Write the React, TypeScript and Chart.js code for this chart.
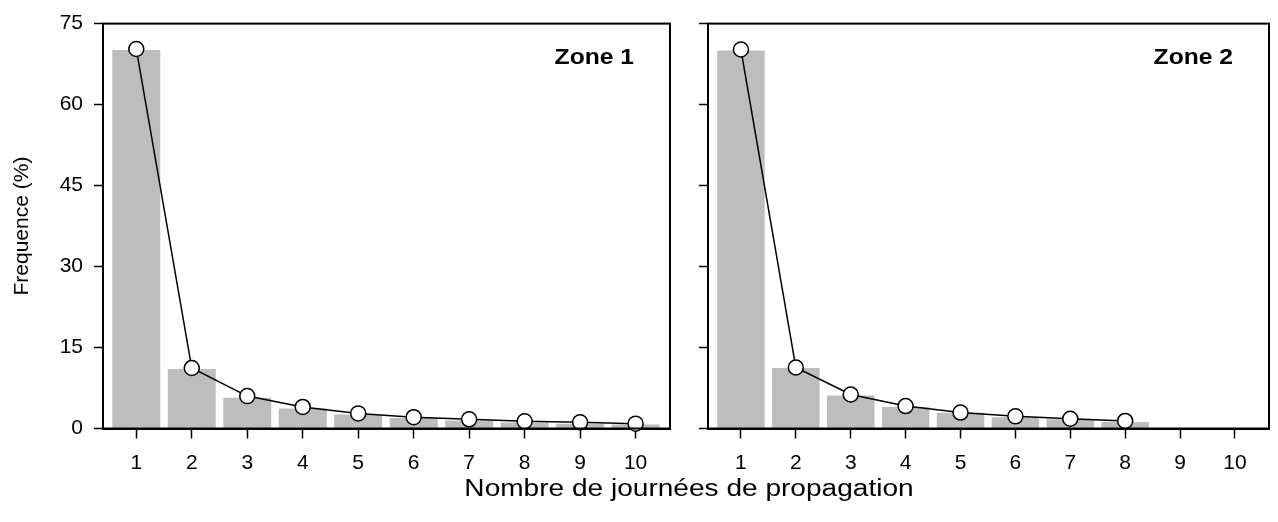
import React, { useEffect, useRef } from "react";
import { Chart, registerables } from "chart.js";

Chart.register(...registerables);

// ---- data ----
const xTickValues = [1, 2, 3, 4, 5, 6, 7, 8, 9, 10];
const yTickValues = [0, 15, 30, 45, 60, 75];

const zone1Days = [1, 2, 3, 4, 5, 6, 7, 8, 9, 10];
const zone1Bars = [70.1, 11.0, 5.7, 3.7, 2.6, 1.95, 1.5, 1.1, 0.9, 0.75];
const zone1Points = [70.3, 11.2, 6.0, 4.0, 2.8, 2.1, 1.7, 1.35, 1.15, 0.9];

const zone2Days = [1, 2, 3, 4, 5, 6, 7, 8];
const zone2Bars = [70.0, 11.2, 6.1, 4.0, 2.9, 2.1, 1.7, 1.2];
const zone2Points = [70.2, 11.3, 6.3, 4.15, 2.95, 2.25, 1.8, 1.4];

const zoneLabels = ["Zone 1", "Zone 2"];
const yTitle = "Frequence (%)";
const xTitle = "Nombre de journées de propagation";

const FONT = "'Liberation Sans', Arial, Helvetica, sans-serif";

type PanelOpts = {
  days: number[];
  bars: number[];
  points: number[];
  label: string;
  showY: boolean;
  yWidth: number;
  padRight: number;
};

function makeConfig(p: PanelOpts): any {
  const framePlugin = {
    id: "frameAndLabel",
    afterDraw(chart: any) {
      const { ctx, chartArea } = chart;
      ctx.save();
      ctx.strokeStyle = "#000";
      ctx.lineWidth = 2;
      ctx.strokeRect(
        chartArea.left,
        chartArea.top,
        chartArea.right - chartArea.left,
        chartArea.bottom - chartArea.top
      );
      ctx.fillStyle = "#000";
      ctx.font = `bold 22px ${FONT}`;
      ctx.textAlign = "right";
      ctx.textBaseline = "alphabetic";
      const x = chartArea.right - 36;
      const y = chartArea.top + 40;
      ctx.translate(x, y);
      ctx.scale(1.12, 1);
      ctx.fillText(p.label, 0, 0);
      ctx.restore();
    },
  };

  return {
    type: "bar",
    data: {
      datasets: [
        {
          type: "line",
          data: p.days.map((d, i) => ({ x: d, y: p.points[i] })),
          borderColor: "#000",
          borderWidth: 1.5,
          pointRadius: 7.5,
          pointBackgroundColor: "#fff",
          pointBorderColor: "#000",
          pointBorderWidth: 1.5,
          fill: false,
          tension: 0,
          order: 0,
          clip: false,
        },
        {
          type: "bar",
          data: p.days.map((d, i) => ({ x: d, y: p.bars[i] })),
          backgroundColor: "#bdbdbd",
          borderWidth: 0,
          barPercentage: 0.865,
          categoryPercentage: 1,
          order: 1,
        },
      ],
    },
    options: {
      animation: false,
      responsive: false,
      maintainAspectRatio: false,
      events: [],
      layout: { padding: { top: 21, right: p.padRight, left: 0, bottom: 0 } },
      plugins: {
        legend: { display: false },
        tooltip: { enabled: false },
      },
      scales: {
        x: {
          type: "linear",
          min: 0.4,
          max: 10.62,
          offset: false,
          afterBuildTicks: (scale: any) => {
            scale.ticks = xTickValues.map((v) => ({ value: v }));
          },
          afterFit: (scale: any) => {
            scale.height = 522 - 21 - 407.5;
          },
          grid: {
            display: true,
            offset: false,
            drawOnChartArea: false,
            drawTicks: true,
            tickLength: 10,
            tickWidth: 1.5,
            tickColor: "#000",
          },
          border: { display: true, color: "#000", width: 2 },
          ticks: {
            color: "#000",
            font: { family: FONT, size: 21 },
            padding: 12,
            maxRotation: 0,
            autoSkip: false,
            callback: (v: any) => String(v),
          },
        },
        y: {
          type: "linear",
          min: 0,
          max: 75,
          afterBuildTicks: (scale: any) => {
            scale.ticks = yTickValues.map((v) => ({ value: v }));
          },
          afterFit: (scale: any) => {
            scale.width = p.yWidth;
          },
          grid: {
            display: true,
            drawOnChartArea: false,
            drawTicks: true,
            tickLength: 9,
            tickWidth: 1.5,
            tickColor: "#000",
          },
          border: { display: true, color: "#000", width: 2 },
          ticks: {
            color: "#000",
            font: { family: FONT, size: 21 },
            padding: 11,
            callback: (v: any) => (p.showY ? String(v) : ""),
          },
          title: {
            display: p.showY,
            text: yTitle,
            color: "#000",
            font: { family: FONT, size: 21 },
            padding: { top: 10, bottom: 0 },
          },
        },
      },
    },
    plugins: [framePlugin],
  };
}

function Panel(props: { opts: PanelOpts; left: number; width: number }) {
  const ref = useRef<HTMLCanvasElement | null>(null);
  useEffect(() => {
    if (!ref.current) return;
    const chart = new Chart(ref.current, makeConfig(props.opts));
    return () => chart.destroy();
  }, []);
  return (
    <div
      style={{
        position: "absolute",
        left: props.left,
        top: 0,
        width: props.width,
        height: 522,
      }}
    >
      <canvas ref={ref} width={props.width} height={522} style={{ width: props.width, height: 522 }} />
    </div>
  );
}

export default function App() {
  return (
    <div
      style={{
        position: "fixed",
        left: 0,
        top: 0,
        width: 1278,
        height: 522,
        background: "#fff",
        overflow: "hidden",
      }}
    >
      <Panel
        left={0}
        width={690}
        opts={{
          days: zone1Days,
          bars: zone1Bars,
          points: zone1Points,
          label: zoneLabels[0],
          showY: true,
          yWidth: 103,
          padRight: 20,
        }}
      />
      <Panel
        left={690}
        width={588}
        opts={{
          days: zone2Days,
          bars: zone2Bars,
          points: zone2Points,
          label: zoneLabels[1],
          showY: false,
          yWidth: 18,
          padRight: 3,
        }}
      />
      <div
        style={{
          position: "absolute",
          left: 0,
          top: 475,
          width: 1378,
          textAlign: "center",
          fontFamily: FONT,
          fontSize: 23,
          color: "#000",
          lineHeight: "26px",
          whiteSpace: "nowrap",
          transform: "scaleX(1.22)",
          transformOrigin: "689px 0",
        }}
      >
        {xTitle}
      </div>
    </div>
  );
}
